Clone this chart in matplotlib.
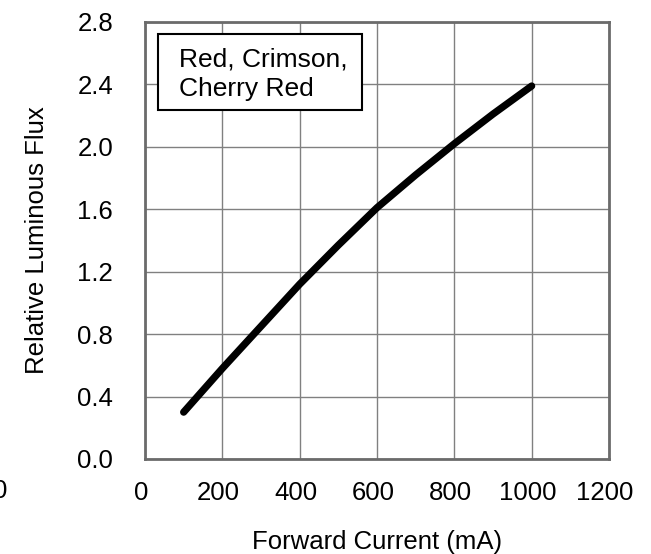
import numpy as np
import matplotlib
matplotlib.use("Agg")
import matplotlib.pyplot as plt
from matplotlib.patches import Rectangle
from matplotlib.transforms import ScaledTranslation

plt.rcParams['font.family'] = ['Liberation Sans', 'DejaVu Sans']

# forward current (mA) vs relative luminous flux
current = [100, 200, 300, 400, 500, 600, 700, 800, 900, 1000]
flux = [0.30, 0.58, 0.85, 1.12, 1.37, 1.61, 1.82, 2.02, 2.21, 2.39]

xticks = [0, 200, 400, 600, 800, 1000, 1200]
yticks = [0.0, 0.4, 0.8, 1.2, 1.6, 2.0, 2.4, 2.8]

FS = 18.5

fig = plt.figure(figsize=(6.51, 5.54), dpi=100)
ax = fig.add_axes([0.2227, 0.1715, 0.7128, 0.7888])

ax.plot(current, flux, color='black', linewidth=5.2, solid_capstyle='round',
        solid_joinstyle='round', zorder=3)

ax.set_xlim(0, 1200)
ax.set_ylim(0, 2.8)
ax.set_xticks(xticks)
ax.set_yticks(yticks)
ax.set_yticklabels([f"{v:.1f}" for v in yticks])
ax.tick_params(axis='both', length=0, labelsize=FS)
ax.tick_params(axis='x', pad=16)
ax.tick_params(axis='y', pad=23)

# x tick labels sit a little left of the gridlines in the reference
for lab in ax.get_xticklabels():
    lab.set_transform(lab.get_transform() + ScaledTranslation(-0.04, 0, fig.dpi_scale_trans))

ax.grid(True, color='#808080', linewidth=1.0)
ax.set_axisbelow(True)
for sp in ax.spines.values():
    sp.set_color('#6b6b6b')
    sp.set_linewidth(2.0)

ax.set_xlabel('Forward Current (mA)', fontsize=FS, labelpad=18)
ax.set_ylabel('Relative Luminous Flux', fontsize=FS, labelpad=20)

# label box
ax.add_patch(Rectangle((0.028, 0.7986), 0.44, 0.174, transform=ax.transAxes,
                       facecolor='white', edgecolor='black', linewidth=1.5, zorder=5))
ax.text(0.0733, 0.881, 'Red, Crimson,\nCherry Red', transform=ax.transAxes,
        fontsize=19, va='center', ha='left', linespacing=1.3, zorder=6)

# stray cut-off tick label at the left edge
fig.text(0.0, (554 - 491) / 554, '0', fontsize=FS, ha='center', va='center')

fig.savefig('out.png', dpi=100)
